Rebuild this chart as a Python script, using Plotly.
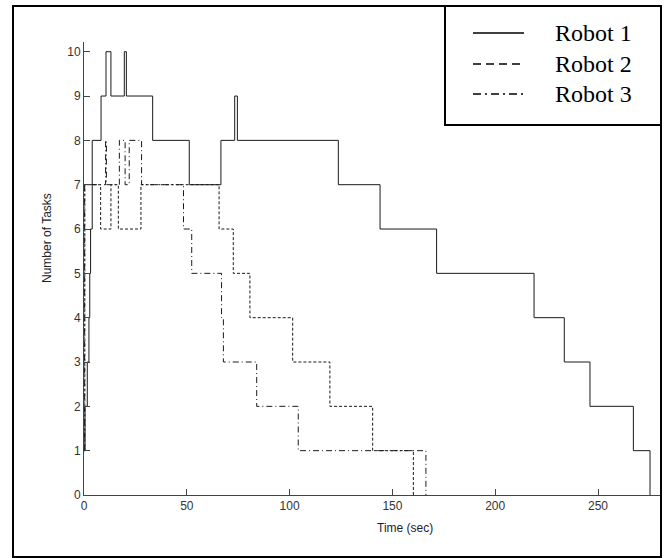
import plotly.graph_objects as go

# Task counts per robot over time (step changes)
robot_names = ["Robot 1", "Robot 2", "Robot 3"]

t_robot1 = [0, 0.5, 1.6, 2.4, 2.8, 3.2, 4.0, 8.3, 10.7, 13.1, 19.6, 20.6, 33.4,
            51.2, 66.6, 73.3, 74.6, 123.7, 144.0, 171.5, 218.9, 233.6, 246.1,
            267.2, 275.3]
n_robot1 = [1, 2, 3, 4, 5, 6, 8, 9, 10, 9, 10, 9, 8,
            7, 8, 9, 8, 7, 6, 5, 4, 3, 2,
            1, 0]

t_robot2 = [0, 0.4, 8.1, 13.1, 16.7, 27.7, 65.7, 72.6, 80.7, 101.5, 119.6,
            140.4, 160.2]
n_robot2 = [1, 7, 6, 7, 6, 7, 6, 5, 4, 3, 2,
            1, 0]

t_robot3 = [0, 0.3, 10.5, 10.9, 17.2, 20.0, 22.0, 28.0, 48.4, 52.4, 66.9,
            67.8, 84.0, 104.2, 166.3]
n_robot3 = [1, 7, 8, 7, 8, 7, 8, 7, 6, 5, 4,
            3, 2, 1, 0]

x_ticks = [0, 50, 100, 150, 200, 250]
y_ticks = list(range(0, 11))

line_color = "#1a1a1a"
plot_dashes = ["solid", "3px,2px", "6px,3px,1px,3px"]
legend_dashes = ["solid", "8px,5px", "8px,4px,2px,4px"]

fig = go.Figure()
for name, t, n, dash in zip(robot_names,
                            [t_robot1, t_robot2, t_robot3],
                            [n_robot1, n_robot2, n_robot3],
                            plot_dashes):
    fig.add_trace(go.Scatter(
        x=t, y=n, mode="lines", name=name, line_shape="hv",
        line=dict(color=line_color, width=1, dash=dash),
        showlegend=False,
    ))

# Plot-area geometry (pixels) used to place frame and legend in paper units
W, H = 666, 558
L, R, T, B = 84, 5, 42, 63
pw, ph = W - L - R, H - T - B


def px(x):
    return (x - L) / pw


def py(y):
    return (H - B - y) / ph


shapes = [
    # outer frame
    dict(type="rect", xref="paper", yref="paper",
         x0=px(13), x1=px(661), y0=py(557), y1=py(6),
         line=dict(color="black", width=2)),
    # legend box
    dict(type="rect", xref="paper", yref="paper",
         x0=px(445), x1=px(661), y0=py(125), y1=py(6),
         line=dict(color="black", width=2), fillcolor="white"),
]
annotations = []
rows = [33, 64, 94]
for name, dash, yy in zip(robot_names, legend_dashes, rows):
    shapes.append(dict(type="line", xref="paper", yref="paper",
                       x0=px(473), x1=px(524), y0=py(yy), y1=py(yy),
                       line=dict(color="black", width=1.5, dash=dash)))
    annotations.append(dict(xref="paper", yref="paper", x=px(553), y=py(yy),
                            text=name, showarrow=False, xanchor="left",
                            yanchor="middle",
                            font=dict(family="Liberation Serif", size=24,
                                      color="black")))

annotations.append(dict(xref="paper", yref="paper", x=px(47), y=py(238),
                        text="Number of Tasks", showarrow=False, textangle=-90,
                        xanchor="center", yanchor="middle",
                        font=dict(family="Liberation Sans", size=12,
                                  color="#222")))
annotations.append(dict(xref="paper", yref="paper", x=px(405), y=py(528),
                        text="Time (sec)", showarrow=False,
                        xanchor="center", yanchor="middle",
                        font=dict(family="Liberation Sans", size=12,
                                  color="#222")))

axis_common = dict(showline=True, linecolor="#444", linewidth=1,
                   ticks="inside", ticklen=6, tickcolor="#444", tickwidth=1,
                   showgrid=False, zeroline=False,
                   tickfont=dict(family="Liberation Sans", size=12, color="#333"))

fig.update_layout(
    width=W, height=H,
    margin=dict(l=L, r=R, t=T, b=B, pad=0),
    paper_bgcolor="white", plot_bgcolor="white",
    xaxis=dict(range=[0, pw / 2.056], tickvals=x_ticks, **axis_common),
    yaxis=dict(range=[0, ph / 44.33], tickvals=y_ticks, **axis_common),
    shapes=shapes, annotations=annotations,
)

fig.write_html("out.html")
